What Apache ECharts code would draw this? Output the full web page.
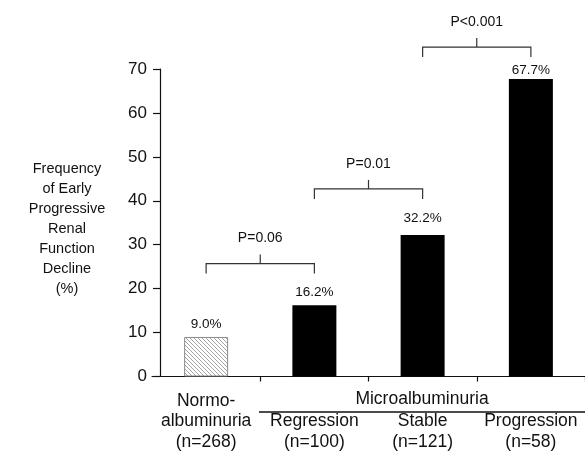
<!DOCTYPE html>
<html>
<head>
<meta charset="utf-8">
<script src="https://cdn.jsdelivr.net/npm/echarts@6/dist/echarts.min.js"></script>
<style>
  html, body { margin: 0; padding: 0; background: #fff; }
  #main { width: 585px; height: 452px; }
</style>
</head>
<body>
<div id="main"></div>
<script>
// data
var groups = ['Normo-\nalbuminuria', 'Regression', 'Stable', 'Progression'];
var counts = ['268', '100', '121', '58'];
var values = [9.0, 16.2, 32.2, 67.7];
var yTicks = [0, 10, 20, 30, 40, 50, 60, 70];
var bracketFrom = [0, 1, 2];
var bracketLevel = [25.7, 42.7, 75.0];
var bracketText = ['P=0.06', 'P=0.01', 'P<0.001'];

var FONT = '"Liberation Sans", Arial, Helvetica, sans-serif';

// hatch for the normoalbuminuria bar
var hatch = document.createElement('canvas');
hatch.width = 4;
hatch.height = 4;
var hc = hatch.getContext('2d');
hc.fillStyle = '#fff';
hc.fillRect(0, 0, 4, 4);
hc.strokeStyle = '#8a8a8a';
hc.lineWidth = 0.8;
hc.beginPath();
hc.moveTo(-1, -1); hc.lineTo(5, 5);
hc.stroke();

var labelGap = [6, 6, 10, 2];

var myChart = echarts.init(document.getElementById('main'), null, {renderer: 'canvas'});

var option = {
    animation: false,
    backgroundColor: '#fff',
    textStyle: {fontFamily: FONT},
    grid: {
        left: 152,
        right: 0,
        top: 69,
        bottom: 75
    },
    xAxis: {
        type: 'category',
        data: groups.map(function (g, i) {
            return i === 0 ? g + '\n(n=' + counts[i] + ')' : '\n' + g + '\n(n=' + counts[i] + ')';
        }),
        axisLine: {lineStyle: {color: '#111', width: 1.2}},
        axisTick: {
            show: true,
            length: 5,
            interval: function (index) { return index > 0; },
            lineStyle: {color: '#111', width: 1.2}
        },
        axisLabel: {
            interval: 0,
            margin: 14,
            color: '#111',
            fontSize: 17.5,
            lineHeight: 20.5,
            fontFamily: FONT
        }
    },
    yAxis: {
        type: 'value',
        min: yTicks[0],
        max: yTicks[yTicks.length - 1],
        interval: 10,
        offset: -8,
        splitLine: {show: false},
        axisLine: {show: true, lineStyle: {color: '#111', width: 1.2}},
        axisTick: {show: true, length: 7, lineStyle: {color: '#111', width: 1.2}},
        axisLabel: {
            margin: 13,
            color: '#111',
            fontSize: 17,
            fontFamily: FONT
        }
    },
    graphic: [
        {
            type: 'text',
            x: 67,
            y: 229,
            style: {
                text: 'Frequency\nof Early\nProgressive\nRenal\nFunction\nDecline\n(%)',
                fill: '#111',
                font: '14.5px ' + FONT,
                lineHeight: 20,
                textAlign: 'center',
                textVerticalAlign: 'middle'
            }
        },
        {
            type: 'text',
            x: 422,
            y: 399,
            style: {
                text: 'Microalbuminuria',
                fill: '#111',
                font: '17.5px ' + FONT,
                textAlign: 'center',
                textVerticalAlign: 'middle'
            }
        },
        {
            type: 'line',
            shape: {x1: 259, y1: 412, x2: 585, y2: 412},
            style: {stroke: '#111', lineWidth: 1.3}
        }
    ],
    series: [
        {
            type: 'bar',
            barWidth: 44,
            data: values.map(function (v, i) {
                return {
                    value: v,
                    itemStyle: i === 0
                        ? {color: {image: hatch, repeat: 'repeat'}, borderColor: '#8a8a8a', borderWidth: 1}
                        : {color: '#000'},
                    label: {distance: labelGap[i]}
                };
            }),
            label: {
                show: true,
                position: 'top',
                color: '#111',
                fontSize: 13.5,
                fontFamily: FONT,
                formatter: function (p) { return p.value.toFixed(1) + '%'; }
            }
        },
        {
            type: 'custom',
            clip: false,
            data: bracketFrom.map(function (f, i) { return [f, bracketLevel[i]]; }),
            encode: {x: 0, y: 1},
            renderItem: function (params, api) {
                var i = api.value(0);
                var lv = api.value(1);
                var p1 = api.coord([i, lv]);
                var p2 = api.coord([i + 1, lv]);
                var mid = (p1[0] + p2[0]) / 2;
                var stroke = {stroke: '#333', lineWidth: 1.2, fill: null};
                return {
                    type: 'group',
                    children: [
                        {
                            type: 'polyline',
                            shape: {points: [[p1[0], p1[1] + 10], [p1[0], p1[1]], [p2[0], p1[1]], [p2[0], p1[1] + 10]]},
                            style: stroke
                        },
                        {
                            type: 'line',
                            shape: {x1: mid, y1: p1[1], x2: mid, y2: p1[1] - 9},
                            style: stroke
                        },
                        {
                            type: 'text',
                            x: mid,
                            y: p1[1] - 25,
                            style: {
                                text: bracketText[params.dataIndex],
                                fill: '#111',
                                font: '14px ' + FONT,
                                textAlign: 'center',
                                textVerticalAlign: 'middle'
                            }
                        }
                    ]
                };
            }
        }
    ]
};

myChart.setOption(option);
</script>
</body>
</html>
